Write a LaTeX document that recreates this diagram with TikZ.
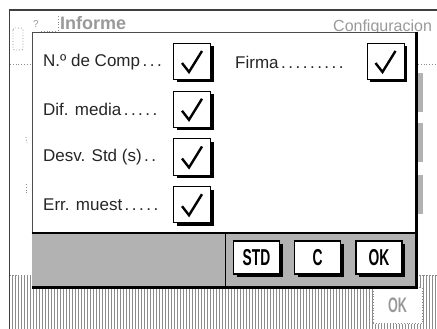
\documentclass[tikz,border=0pt]{standalone}
\usepackage{fontspec}
\setmainfont{Liberation Sans}
\usetikzlibrary{positioning,shadows,patterns}

\newcommand{\lead}[1]{\foreach\k in {1,...,#1}{\kern2.5pt.}}
\newcommand{\narrow}[1]{\scalebox{0.6}[1]{#1}}

\tikzset{
  lbl/.style={anchor=west,inner sep=0pt,text=black!85,font=\fontsize{17}{20}\selectfont},
  chk/.style={draw,line width=1pt,fill=white,minimum width=37pt,minimum height=36pt,inner sep=0pt,
    drop shadow={shadow xshift=3pt,shadow yshift=-3pt,fill=black,opacity=1},
    path picture={\draw[line width=2.4pt] (path picture bounding box.center) ++(-10pt,-1.5pt) -- ++(7pt,-9pt) -- ++(13pt,21pt);}},
  btn/.style={draw,line width=1.2pt,fill=white,minimum width=46pt,minimum height=33pt,inner sep=0pt,
    drop shadow={shadow xshift=3pt,shadow yshift=-3pt,fill=black,opacity=1},
    font=\fontsize{23}{24}\selectfont\bfseries},
  ghost/.style={text=black!40,inner sep=0pt},
  ghostline/.style={black!45,dotted,line width=0.8pt},
}

\begin{document}
\begin{tikzpicture}[x=1pt,y=-1pt]
  \useasboundingbox (0,0) rectangle (437,329);
  % screen behind the dialog
  \draw[black!75,line width=1.2pt] (9.5,329) -- (9.5,10) -- (437,10);
  \draw[ghostline,rounded corners=2pt] (13,28) rectangle (23,50);
  \node[ghost,font=\fontsize{10}{10}\selectfont] (qmark) at (36,24) {?};
  \draw[ghostline] (41,31) -- (56,31);
  \draw[ghostline] (58,16) -- (58,32);
  \node[ghost,anchor=west,font=\fontsize{18}{20}\selectfont\bfseries] (informe) at (60,23) {Informe};
  \node[ghost,anchor=west,font=\fontsize{16}{18}\selectfont] (config) at (333,27) {Configuracion};
  \draw[ghostline] (10,64) -- (32,64);
  \draw[ghostline] (418,64) -- (437,64);
  \draw[ghostline] (26,137) -- (27,143);
  \draw[ghostline] (26,184) -- (26,193);
  \foreach \y in {73,123,175}
    \fill[black!30] (418,\y) rectangle (423,\y+39);
  \fill[pattern=vertical lines,pattern color=black!45] (10,275) rectangle (437,329);
  \draw[ghostline] (10,275) -- (437,275);
  \draw[white,line width=1pt] (197,275) -- (197,329);
  \node[draw=black!45,dotted,line width=0.8pt,fill=white,minimum width=49pt,minimum height=36pt,
    ghost,font=\fontsize{21}{22}\selectfont\bfseries] (ghostok) at (397.5,305.5) {\narrow{OK}};

  % dialog
  \node[draw=black!70,line width=0.8pt,fill=white,minimum width=384pt,minimum height=255pt,inner sep=0pt]
    (dlg) at (224,159.5) {};
  \node[fill=black!30,minimum width=384pt,minimum height=54pt,inner sep=0pt,anchor=south west]
    (bar) at (dlg.south west) {};
  \draw[line width=2pt] (bar.north west) -- (bar.north east);
  \draw[line width=0.8pt] (225,233) -- (225,287);
  \draw[line width=3pt] (dlg.north east) -- (dlg.south east) -- (dlg.south west);

  \node[lbl] (comp)  at (43,62)  {N.º de Comp\lead{3}};
  \node[lbl] (media) at (43,109) {Dif. media\lead{5}};
  \node[lbl] (desv)  at (43,157) {Desv. Std (s)\lead{2}};
  \node[lbl] (err)   at (43,205) {Err. muest\lead{5}};
  \node[lbl] (firma) at (235,62) {Firma\lead{9}};

  \node[chk] (ckcomp)  at (192,61.5)  {};
  \node[chk] (ckmedia) at (192,109.3) {};
  \node[chk] (ckdesv)  at (192,157)   {};
  \node[chk] (ckerr)   at (192,204.7) {};
  \node[chk] (ckfirma) at (385.5,61.5) {};

  \node[btn] (std) at (256.5,257.5) {\narrow{STD}};
  \node[btn] (clr) [right=14pt of std] {\narrow{C}};
  \node[btn] (ok)  [right=14pt of clr] {\narrow{OK}};
\end{tikzpicture}
\end{document}
